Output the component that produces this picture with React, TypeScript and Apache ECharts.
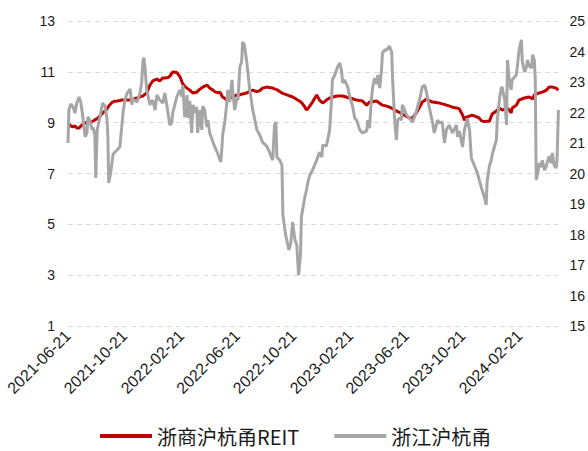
import React, { useEffect, useRef } from 'react';
import * as echarts from 'echarts';

const seriesNames = ['浙商沪杭甬REIT', '浙江沪杭甬'];

const dates = [
  '2021-06-21','2021-06-23','2021-06-27','2021-07-02','2021-07-06','2021-07-10','2021-07-15','2021-07-19','2021-07-23','2021-07-28',
  '2021-08-01','2021-08-03','2021-08-07','2021-08-12','2021-08-14','2021-08-18','2021-08-20','2021-08-23','2021-08-29','2021-09-02',
  '2021-09-04','2021-09-09','2021-09-13','2021-09-15','2021-09-17','2021-09-22','2021-09-26','2021-09-30','2021-10-05','2021-10-11',
  '2021-10-15','2021-10-18','2021-10-22','2021-10-26','2021-11-02','2021-11-06','2021-11-08','2021-11-17','2021-11-23','2021-11-27',
  '2021-11-30','2021-12-02','2021-12-04','2021-12-08','2021-12-15','2021-12-21','2021-12-26','2021-12-30','2022-01-05','2022-01-12',
  '2022-01-16','2022-01-23','2022-01-27','2022-01-31','2022-02-02','2022-02-11','2022-02-18','2022-02-22','2022-02-24','2022-02-28',
  '2022-03-05','2022-03-07','2022-03-11','2022-03-15','2022-03-18','2022-03-22','2022-03-26','2022-03-28','2022-04-02','2022-04-06',
  '2022-04-08','2022-04-12','2022-04-17','2022-04-19','2022-04-23','2022-04-30','2022-05-04','2022-05-10','2022-05-15','2022-05-17',
  '2022-05-19','2022-05-21','2022-05-26','2022-05-30','2022-06-01','2022-06-05','2022-06-10','2022-06-12','2022-06-16','2022-06-21',
  '2022-06-23','2022-06-27','2022-07-01','2022-07-03','2022-07-07','2022-07-12','2022-07-18','2022-07-25','2022-08-03','2022-08-09',
  '2022-08-15','2022-08-24','2022-08-30','2022-09-06','2022-09-10','2022-09-13','2022-09-15','2022-09-21','2022-09-26','2022-09-28',
  '2022-10-04','2022-10-11','2022-10-15','2022-10-19','2022-10-24','2022-10-28','2022-10-30','2022-11-01','2022-11-05','2022-11-07',
  '2022-11-14','2022-11-18','2022-11-21','2022-11-25','2022-12-01','2022-12-10','2022-12-16','2022-12-21','2022-12-23','2022-12-31',
  '2023-01-07','2023-01-11','2023-01-13','2023-01-18','2023-01-24','2023-01-29','2023-02-02','2023-02-04','2023-02-08','2023-02-15',
  '2023-02-19','2023-02-26','2023-03-02','2023-03-06','2023-03-13','2023-03-19','2023-03-28','2023-03-30','2023-04-03','2023-04-07',
  '2023-04-10','2023-04-14','2023-04-18','2023-04-21','2023-04-25','2023-04-29','2023-05-01','2023-05-06','2023-05-10','2023-05-16',
  '2023-05-21','2023-05-23','2023-05-27','2023-05-31','2023-06-03','2023-06-07','2023-06-11','2023-06-13','2023-06-22','2023-06-28',
  '2023-07-05','2023-07-13','2023-07-20','2023-07-26','2023-07-31','2023-08-04','2023-08-10','2023-08-17','2023-08-21','2023-08-28',
  '2023-09-01','2023-09-07','2023-09-12','2023-09-16','2023-09-22','2023-09-29','2023-10-08','2023-10-10','2023-10-14','2023-10-21',
  '2023-10-25','2023-10-29','2023-10-31','2023-11-05','2023-11-09','2023-11-15','2023-11-22','2023-11-26','2023-12-01','2023-12-07',
  '2023-12-11','2023-12-13','2023-12-18','2023-12-22','2023-12-24','2024-01-02','2024-01-04','2024-01-09','2024-01-13','2024-01-15',
  '2024-01-20','2024-01-24','2024-01-26','2024-01-30','2024-02-03','2024-02-05','2024-02-14','2024-02-16','2024-02-20','2024-02-25',
  '2024-02-27','2024-03-03','2024-03-07','2024-03-09','2024-03-13','2024-03-18','2024-03-20','2024-03-24','2024-03-26','2024-03-28',
  '2024-03-30','2024-04-04','2024-04-08','2024-04-10','2024-04-15','2024-04-19','2024-04-21','2024-04-25','2024-04-29','2024-05-02',
  '2024-05-06','2024-05-10','2024-05-12','2024-05-15',
];

const reitPrice = [
  8.98,8.95,8.87,8.84,8.87,8.79,8.79,8.87,8.93,8.98,
  9.02,9.03,9.04,9.05,9.06,9.11,9.13,9.16,9.26,9.34,
  9.38,9.46,9.54,9.60,9.65,9.76,9.82,9.84,9.85,9.87,
  9.89,9.89,9.89,9.89,9.89,9.91,9.92,9.97,10.01,10.04,
  10.05,10.08,10.11,10.17,10.48,10.64,10.68,10.72,10.64,10.76,
  10.76,10.78,10.83,10.94,10.99,10.97,10.80,10.61,10.52,10.44,
  10.36,10.33,10.28,10.21,10.17,10.19,10.20,10.24,10.32,10.37,
  10.40,10.44,10.48,10.44,10.36,10.28,10.22,10.18,10.20,10.14,
  10.07,10.01,9.95,9.89,9.92,9.97,10.00,10.01,10.05,10.09,
  10.09,10.09,10.12,10.13,10.15,10.17,10.24,10.28,10.22,10.26,
  10.36,10.40,10.38,10.36,10.33,10.31,10.30,10.23,10.17,10.15,
  10.11,10.06,10.04,10.01,9.96,9.91,9.89,9.87,9.82,9.80,
  9.63,9.50,9.55,9.65,9.81,10.09,9.89,9.81,9.77,9.89,
  9.97,9.99,10.00,10.03,10.05,10.05,10.05,10.05,10.03,9.99,
  9.97,9.94,9.91,9.89,9.87,9.85,9.69,9.73,9.81,9.82,
  9.82,9.84,9.85,9.82,9.76,9.71,9.69,9.67,9.65,9.61,
  9.57,9.55,9.50,9.46,9.44,9.40,9.36,9.34,9.25,9.18,
  9.18,9.38,9.61,9.81,9.87,9.93,9.87,9.81,9.80,9.78,
  9.77,9.74,9.72,9.69,9.66,9.61,9.58,9.57,9.54,9.30,
  9.10,9.22,9.23,9.26,9.29,9.27,9.22,9.18,9.07,9.04,
  9.06,9.06,9.06,9.25,9.34,9.46,9.50,9.57,9.52,9.50,
  9.53,9.57,9.55,9.50,9.38,9.57,9.69,9.75,9.89,9.92,
  9.94,9.97,9.99,10.00,10.01,9.96,9.93,10.09,10.11,10.13,
  10.14,10.17,10.19,10.20,10.24,10.28,10.32,10.40,10.40,10.40,
  10.38,10.36,10.32,10.28,
];

const stockPrice = [
  21.00,22.08,22.28,22.18,21.98,22.31,22.51,22.31,21.85,21.20,
  21.33,21.85,21.75,21.43,21.52,21.26,19.85,21.43,21.85,22.18,
  22.31,22.21,21.82,21.26,19.69,20.11,20.61,20.70,20.77,20.87,
  21.52,22.02,22.41,22.61,22.77,22.25,22.44,22.34,22.61,22.97,
  23.72,23.79,23.52,22.74,22.25,22.41,22.08,22.57,22.41,22.31,
  22.64,21.98,21.59,21.66,21.98,22.51,22.74,22.51,22.90,21.85,
  22.57,21.82,22.38,21.33,22.25,21.98,22.18,21.33,22.08,21.43,
  22.21,22.08,21.52,21.75,21.33,21.03,20.87,20.67,20.44,20.38,
  20.77,21.26,21.75,22.31,22.74,22.34,23.07,22.67,22.08,22.48,
  22.41,23.49,23.66,24.31,24.21,23.66,22.80,22.08,21.43,21.26,
  21.03,20.90,20.70,20.44,21.59,21.69,20.54,20.44,20.28,18.64,
  17.98,17.49,17.72,18.41,17.82,17.66,17.16,16.67,17.33,18.57,
  19.20,19.46,19.72,19.95,20.11,20.44,20.70,20.54,20.93,20.90,
  21.43,22.41,23.07,23.23,23.49,23.62,23.33,22.97,23.07,22.84,
  22.54,22.18,21.82,21.75,21.43,21.33,21.39,21.75,21.49,22.41,
  22.84,23.13,22.93,23.23,22.80,23.39,23.95,24.05,24.05,24.18,
  23.98,23.07,21.85,21.10,21.75,21.82,21.75,22.25,21.92,21.82,
  21.69,22.02,22.41,22.84,22.90,22.67,22.18,21.69,21.33,21.75,
  21.66,21.69,21.00,21.43,21.59,21.33,21.59,21.20,21.39,20.87,
  21.43,21.66,21.82,21.43,20.51,20.28,20.02,19.79,19.52,19.23,
  18.97,19.72,20.25,20.44,20.61,21.10,21.75,22.48,22.84,22.80,
  22.41,21.59,23.72,23.00,22.74,23.07,23.23,23.46,24.05,24.38,
  23.66,23.33,23.49,23.72,23.52,23.46,23.89,23.72,23.07,19.79,
  19.92,20.34,20.21,20.44,20.11,20.25,20.38,20.57,20.34,20.67,
  20.25,20.18,20.44,22.08,
];

const xTickDates = [
  '2021-06-21','2021-10-21','2022-02-21','2022-06-21','2022-10-21',
  '2023-02-21','2023-06-21','2023-10-21','2024-02-21',
];

const xStart = '2021-06-21';
const xEnd = '2024-05-15';

function toTime(s: string): number {
  const [y, m, d] = s.split('-').map(Number);
  return new Date(y, m - 1, d).getTime();
}
function pad(n: number) {
  return n < 10 ? '0' + n : '' + n;
}
function fmt(v: number): string {
  const d = new Date(v);
  return d.getFullYear() + '-' + pad(d.getMonth() + 1) + '-' + pad(d.getDate());
}

export default function App() {
  const ref = useRef<HTMLDivElement>(null);
  useEffect(() => {
    document.body.style.margin = '0';
    const chart = echarts.init(ref.current!, null, { renderer: 'svg' });
    const tickVals = xTickDates.map(toTime);
    const axisFont = { fontFamily: 'Liberation Sans, Arial, sans-serif', fontSize: 14, color: '#1a1a1a' };
    chart.setOption({
      animation: false,
      backgroundColor: '#ffffff',
      grid: { left: 68, right: 29, top: 21, bottom: 125, containLabel: false },
      legend: {
        left: 100,
        top: 425,
        padding: 0,
        itemWidth: 52,
        itemHeight: 4,
        itemGap: 35,
        icon: 'rect',
        data: seriesNames,
        textStyle: { fontFamily: 'Noto Sans CJK SC', fontSize: 20, lineHeight: 22, color: '#1a1a1a' },
      },
      xAxis: {
        type: 'value',
        min: toTime(xStart),
        max: toTime(xEnd),
        axisLine: { show: false },
        axisTick: { show: false },
        splitLine: { show: false },
        axisLabel: {
          ...axisFont,
          fontSize: 16,
          rotate: 45,
          margin: 7,
          hideOverlap: false,
          showMinLabel: true,
          showMaxLabel: true,
          customValues: tickVals,
          formatter: (v: number) => fmt(v),
        },
      },
      yAxis: [
        {
          type: 'value',
          min: 1,
          max: 13,
          interval: 2,
          axisLine: { show: false },
          axisTick: { show: false },
          axisLabel: { ...axisFont, margin: 13 },
          splitLine: { show: true, lineStyle: { color: '#d9d9d9', type: [5, 4], width: 1 } },
        },
        {
          type: 'value',
          min: 15,
          max: 25,
          interval: 1,
          position: 'right',
          axisLine: { show: false },
          axisTick: { show: false },
          axisLabel: { ...axisFont, margin: 11 },
          splitLine: { show: false },
        },
      ],
      series: [
        {
          name: seriesNames[0],
          type: 'line',
          yAxisIndex: 0,
          symbol: 'none',
          showSymbol: false,
          lineStyle: { color: '#c00000', width: 3 },
          itemStyle: { color: '#c00000' },
          data: dates.map((d, i) => [toTime(d), reitPrice[i]]),
        },
        {
          name: seriesNames[1],
          type: 'line',
          yAxisIndex: 1,
          symbol: 'none',
          showSymbol: false,
          lineStyle: { color: '#a6a6a6', width: 3 },
          itemStyle: { color: '#a6a6a6' },
          data: dates.map((d, i) => [toTime(d), stockPrice[i]]),
        },
      ],
    });
    return () => chart.dispose();
  }, []);
  return <div ref={ref} style={{ width: 588, height: 451 }} />;
}
